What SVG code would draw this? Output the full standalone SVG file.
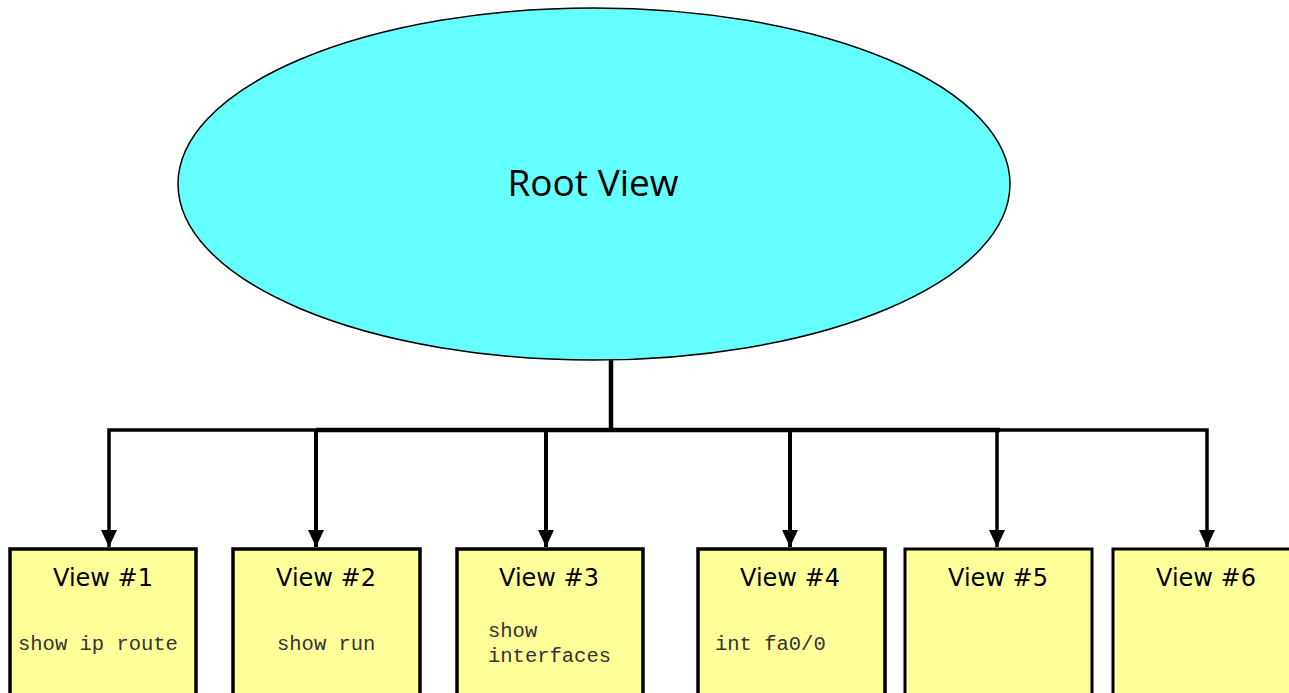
<svg xmlns="http://www.w3.org/2000/svg" width="1289" height="693" viewBox="0 0 1289 693">
<style>
.box{fill:#FFFF99;stroke:#000;stroke-width:3.5}
.title{font-family:"DejaVu Sans",sans-serif;font-size:24px;fill:#000;text-anchor:middle}
.cmd{font-family:"Liberation Mono",monospace;font-size:20.5px;fill:#333}
.wire{fill:none;stroke:#000;stroke-linejoin:miter}
</style>
<defs>
<marker id="ah" viewBox="0 0 17 16" refX="17" refY="8" markerWidth="17" markerHeight="16" markerUnits="userSpaceOnUse" orient="auto">
<path d="M0,0 L17,8 L0,16 Z" fill="#000"/>
</marker>
</defs>
<rect width="1289" height="693" fill="#fff"/>
<g id="root">
<ellipse cx="594" cy="184" rx="416" ry="176" fill="#66FFFF" stroke="#000" stroke-width="1.5"/>
<text x="593" y="196" font-family="'Open Sans',sans-serif" font-size="37" text-anchor="middle">Root View</text>
</g>
<g id="connectors">
<path class="wire" d="M611,360 V430" stroke-width="4.5"/>
<path class="wire" d="M316,430 H1000" stroke-width="4.5"/>
<path class="wire" d="M316,430 H109 V547" stroke-width="3.5" marker-end="url(#ah)"/>
<path class="wire" d="M1000,430 H1207 V547" stroke-width="3.5" marker-end="url(#ah)"/>
<path class="wire" d="M316,430 V547" stroke-width="4" marker-end="url(#ah)"/>
<path class="wire" d="M546,430 V547" stroke-width="4" marker-end="url(#ah)"/>
<path class="wire" d="M790,430 V547" stroke-width="4" marker-end="url(#ah)"/>
<path class="wire" d="M997,430 V547" stroke-width="3.5" marker-end="url(#ah)"/>
</g>
<g id="view1">
<rect class="box" x="10" y="549" width="186" height="150"/>
<text class="title" x="103" y="586">View #1</text>
<text class="cmd" x="18" y="650">show ip route</text>
</g>
<g id="view2">
<rect class="box" x="233" y="549" width="187" height="150"/>
<text class="title" x="326" y="586">View #2</text>
<text class="cmd" x="277" y="650">show run</text>
</g>
<g id="view3">
<rect class="box" x="457" y="549" width="186" height="150"/>
<text class="title" x="549" y="586">View #3</text>
<text class="cmd" x="488" y="637">show</text>
<text class="cmd" x="488" y="662">interfaces</text>
</g>
<g id="view4">
<rect class="box" x="698" y="549" width="187" height="150"/>
<text class="title" x="790" y="586">View #4</text>
<text class="cmd" x="715" y="650">int fa0/0</text>
</g>
<g id="view5">
<rect class="box" x="905" y="549" width="187" height="150" style="stroke-width:3"/>
<text class="title" x="998" y="586">View #5</text>
</g>
<g id="view6">
<rect class="box" x="1113" y="549" width="200" height="150" style="stroke-width:3"/>
<text class="title" x="1206" y="586">View #6</text>
</g>
</svg>
